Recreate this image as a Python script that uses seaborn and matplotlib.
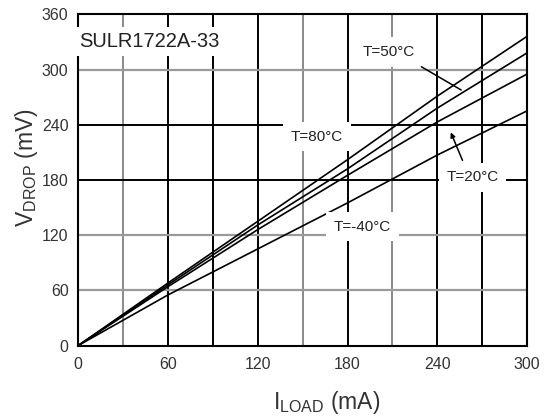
import numpy as np
import pandas as pd
import matplotlib
matplotlib.use("Agg")
import matplotlib.pyplot as plt
import seaborn as sns

# ---- data ----
i_load = [0, 60, 120, 180, 240, 300]
v_t80 = [0, 68, 135, 202, 271, 336]
v_t50 = [0, 66, 131, 192, 258, 318]
v_t20 = [0, 64, 126, 185, 243, 295]
v_tm40 = [0, 55, 105, 155, 207, 255]
series_names = ["T=80°C", "T=50°C", "T=20°C", "T=-40°C"]
x_ticks = [0, 60, 120, 180, 240, 300]
y_ticks = [0, 60, 120, 180, 240, 300, 360]
title_text = "SULR1722A-33"

df = pd.DataFrame({
    "I": i_load * 4,
    "V": v_t80 + v_t50 + v_t20 + v_tm40,
    "T": sum([[n] * len(i_load) for n in series_names], []),
})

sns.set_style("white")
plt.rcParams["font.family"] = ["Liberation Sans", "DejaVu Sans"]
plt.rcParams["mathtext.default"] = "regular"

fig = plt.figure(figsize=(5.44, 4.18), dpi=100)
ax = fig.add_axes([78.3 / 544, 1 - 345.5 / 418, (527 - 78.3) / 544, (345.5 - 14.3) / 418])

# grid lines
black_v = [60, 90, 120, 180, 240, 270]
grey_v = [30, 150, 210]
black_h = [180, 240]
grey_h = [60, 120, 300]
for v in black_v:
    ax.axvline(v, color="black", lw=1.4, zorder=1)
for v in grey_v:
    ax.axvline(v, color="#8a8a8a", lw=1.4, zorder=1)
for h in black_h:
    ax.axhline(h, color="black", lw=1.4, zorder=1)
for h in grey_h:
    ax.axhline(h, color="#9a9a9a", lw=1.6, zorder=1)

sns.lineplot(data=df, x="I", y="V", hue="T", palette=["black"] * 4,
             legend=False, lw=1.2, ax=ax, zorder=3)

ax.set_xlim(0, 300)
ax.set_ylim(0, 360)
ax.set_xticks(x_ticks)
ax.set_yticks(y_ticks)
ax.set_xticks(np.arange(30, 300, 60), minor=True)
ax.set_yticks(np.arange(30, 360, 60), minor=True)
ax.tick_params(axis="both", which="major", labelsize=11.5, labelcolor="#333333",
               length=4, width=1.2, direction="out", color="black")
ax.tick_params(axis="x", which="minor", length=4, width=1.2, direction="out")
ax.tick_params(axis="y", which="minor", length=4, width=1.2, direction="in")
ax.tick_params(axis="x", which="major", pad=4)
ax.tick_params(axis="y", which="major", pad=3)
for s in ax.spines.values():
    s.set_color("black")
    s.set_linewidth(1.5)
    s.set_visible(True)

ax.set_xlabel("")
ax.set_ylabel("")

box = dict(boxstyle="square,pad=0.25", fc="white", ec="none")
ax.text(0.5, 330, title_text, fontsize=14.5, color="#222222", ha="left", va="center",
        bbox=box, zorder=4)

lbl_box = dict(boxstyle="square,pad=0.5", fc="white", ec="none")
# annotations
ax.text(207.5, 319, series_names[1], fontsize=11, color="#222222", ha="center", va="center",
        bbox=lbl_box, zorder=4)
ax.plot([229.4, 256], [303, 277.7], color="black", lw=1.1, zorder=4)
ax.text(159.5, 227, series_names[0], fontsize=11, color="#222222", ha="center", va="center",
        bbox=lbl_box, zorder=4)
ax.text(263.7, 183, series_names[2], fontsize=11, color="#222222", ha="center", va="center",
        bbox=lbl_box, zorder=4)
ax.annotate("", xy=(248.3, 234.5), xytext=(257.6, 198.4),
            arrowprops=dict(arrowstyle="-|>", color="black", lw=1.1, mutation_scale=7), zorder=4)
ax.text(190, 129, series_names[3], fontsize=11, color="#222222", ha="center", va="center",
        bbox=lbl_box, zorder=4)

# axis labels
fig.text(327 / 544, 1 - 403 / 418, r"I$_{LOAD}$ (mA)", fontsize=16.5, color="#333333",
         ha="center", va="center")
fig.text(27 / 544, 1 - 168 / 418, r"V$_{DROP}$ (mV)", fontsize=16.5, color="#333333",
         ha="center", va="center", rotation=90)

fig.savefig("out.png", dpi=100, facecolor="white")
